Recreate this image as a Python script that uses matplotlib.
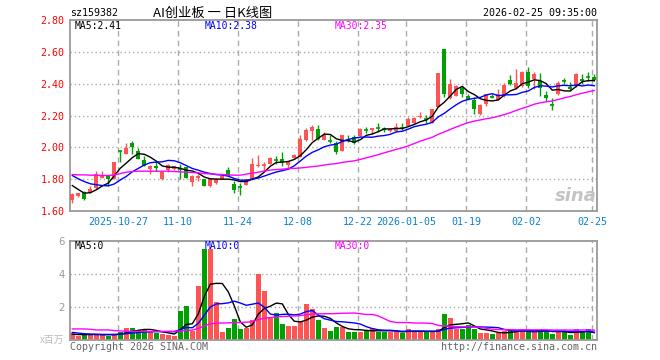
import matplotlib
matplotlib.use('Agg')
import matplotlib.pyplot as plt
import numpy as np
import pandas as pd

plt.rcParams['font.family'] = ['DejaVu Sans Mono', 'Noto Sans CJK SC', 'DejaVu Sans']

# ---------------- data ----------------
opens = [1.667, 1.694, 1.719, 1.715, 1.744, 1.810, 1.820, 1.802, 1.978, 1.958,
         2.025, 1.980, 1.920, 1.865, 1.885, 1.800, 1.855, 1.865, 1.868, 1.875,
         1.785, 1.810, 1.800, 1.756, 1.778, 1.800, 1.855, 1.770, 1.752, 1.765,
         1.800, 1.880, 1.883, 1.896, 1.921, 1.927, 1.890, 1.935, 1.940, 2.045,
         2.100, 2.115, 2.048, 2.041, 2.025, 1.977, 2.046, 2.067, 2.073, 2.112,
         2.110, 2.121, 2.116, 2.100, 2.100, 2.121, 2.135, 2.150, 2.190, 2.181,
         2.155, 2.254, 2.615, 2.310, 2.323, 2.375, 2.320, 2.300, 2.210, 2.270,
         2.321, 2.300, 2.320, 2.420, 2.370, 2.385, 2.473, 2.427, 2.417, 2.327,
         2.271, 2.333, 2.421, 2.380, 2.385, 2.430, 2.441, 2.440]
closes = [1.708, 1.712, 1.673, 1.740, 1.833, 1.829, 1.800, 1.906, 1.976, 1.994,
          2.000, 1.927, 1.885, 1.885, 1.870, 1.848, 1.890, 1.880, 1.855, 1.810,
          1.822, 1.820, 1.760, 1.800, 1.800, 1.820, 1.820, 1.735, 1.750, 1.800,
          1.895, 1.890, 1.887, 1.933, 1.919, 1.906, 1.912, 1.950, 2.050, 2.108,
          2.130, 2.050, 2.077, 2.039, 1.973, 2.077, 2.044, 2.030, 2.115, 2.110,
          2.120, 2.119, 2.114, 2.115, 2.125, 2.119, 2.177, 2.183, 2.200, 2.179,
          2.240, 2.465, 2.333, 2.396, 2.385, 2.337, 2.300, 2.240, 2.265, 2.333,
          2.319, 2.333, 2.390, 2.396, 2.406, 2.473, 2.385, 2.462, 2.370, 2.310,
          2.269, 2.406, 2.419, 2.365, 2.458, 2.415, 2.439, 2.420]
highs = [1.712, 1.716, 1.725, 1.760, 1.854, 1.854, 1.824, 1.910, 1.985, 2.030,
         2.040, 1.996, 1.945, 1.890, 1.917, 1.850, 1.893, 1.884, 1.896, 1.878,
         1.826, 1.835, 1.804, 1.805, 1.806, 1.835, 1.875, 1.790, 1.777, 1.804,
         1.933, 1.950, 1.906, 1.942, 1.948, 1.969, 1.914, 1.960, 2.075, 2.121,
         2.140, 2.140, 2.098, 2.077, 2.042, 2.080, 2.077, 2.077, 2.123, 2.125,
         2.123, 2.150, 2.129, 2.121, 2.150, 2.156, 2.188, 2.192, 2.220, 2.206,
         2.241, 2.467, 2.617, 2.427, 2.390, 2.385, 2.337, 2.315, 2.271, 2.337,
         2.333, 2.365, 2.406, 2.455, 2.490, 2.479, 2.506, 2.473, 2.465, 2.354,
         2.310, 2.417, 2.437, 2.410, 2.469, 2.462, 2.475, 2.458]
lows = [1.652, 1.690, 1.667, 1.712, 1.740, 1.806, 1.760, 1.798, 1.910, 1.955,
        1.960, 1.924, 1.880, 1.835, 1.854, 1.797, 1.845, 1.860, 1.800, 1.806,
        1.756, 1.790, 1.755, 1.750, 1.770, 1.798, 1.817, 1.715, 1.698, 1.762,
        1.797, 1.874, 1.854, 1.893, 1.894, 1.885, 1.866, 1.931, 1.937, 2.042,
        2.045, 2.047, 2.045, 2.030, 1.958, 1.974, 2.031, 2.021, 2.070, 2.088,
        2.085, 2.094, 2.094, 2.094, 2.098, 2.110, 2.132, 2.147, 2.182, 2.156,
        2.152, 2.251, 2.317, 2.306, 2.320, 2.316, 2.297, 2.208, 2.204, 2.260,
        2.312, 2.297, 2.317, 2.393, 2.366, 2.382, 2.375, 2.365, 2.320, 2.292,
        2.235, 2.330, 2.396, 2.360, 2.382, 2.400, 2.417, 2.417]
volumes = [0.40, 0.24, 0.34, 0.34, 0.34, 0.34, 0.24, 0.34, 0.50, 0.75,
           0.75, 0.60, 0.60, 0.50, 0.45, 0.34, 0.28, 0.24, 1.78, 2.06,
           0.55, 3.30, 5.50, 5.50, 2.32, 0.50, 0.75, 1.27, 0.65, 0.70,
           1.21, 4.00, 2.97, 1.37, 1.64, 0.97, 0.85, 0.85, 1.17, 2.18,
           1.88, 1.21, 0.75, 0.55, 0.79, 0.81, 0.50, 0.50, 0.50, 0.60,
           0.70, 0.50, 0.50, 0.50, 0.50, 0.45, 0.67, 0.50, 0.50, 0.50,
           0.50, 0.67, 1.58, 1.33, 0.67, 0.69, 0.91, 0.67, 0.40, 0.40,
           0.36, 0.45, 0.55, 0.55, 0.60, 0.67, 0.50, 0.50, 0.60, 0.60,
           0.36, 0.50, 0.50, 0.30, 0.67, 0.50, 0.67, 0.06]

# moving-average values at the left edge (history before the window)
price_ma5_head = [1.760, 1.735, 1.712, 1.715]
price_ma10_head = [1.823, 1.802, 1.785, 1.771, 1.765, 1.760, 1.758, 1.770, 1.795]
price_ma30_head = [1.829, 1.827, 1.827, 1.825, 1.825, 1.823, 1.823, 1.827, 1.835, 1.844,
                   1.848, 1.850, 1.850, 1.850, 1.850, 1.850, 1.850, 1.848, 1.846, 1.844,
                   1.842, 1.840, 1.835, 1.833, 1.831, 1.829, 1.827, 1.825, 1.825]
vol_ma5_head = [0.35, 0.33, 0.33, 0.33]
vol_ma10_head = [0.46, 0.42, 0.38, 0.36, 0.35, 0.34, 0.34, 0.34, 0.35]
vol_ma30_head = [0.67, 0.67, 0.67, 0.65, 0.61, 0.61, 0.61, 0.57, 0.55, 0.53,
                 0.52, 0.52, 0.52, 0.52, 0.52, 0.52, 0.52, 0.53, 0.55, 0.58,
                 0.60, 0.70, 0.86, 0.98, 1.02, 1.03, 1.04, 1.05, 1.06]

date_idx = [8, 18, 28, 38, 48, 56, 66, 76, 87]
date_labels = ['2025-10-27', '11-10', '11-24', '12-08', '12-22',
               '2026-01-05', '01-19', '02-02', '02-25']
price_ticks = [1.60, 1.80, 2.00, 2.20, 2.40, 2.60, 2.80]
vol_ticks = [2, 4, 6]
ma_windows = [5, 10, 30]
ma_colors = ['#000000', '#0000ff', '#ff00ff']
price_ma_text = ['MA5:2.41', 'MA10:2.38', 'MA30:2.35']
vol_ma_text = ['MA5:0', 'MA10:0', 'MA30:0']

code_text = 'sz159382'
title_text = 'AI创业板 一 日K线图'
time_text = '2026-02-25 09:35:00'

# ---------------- styling ----------------
RED = '#ff5454'
GREEN = '#00a000'
GRID = '#aaaaaa'
SPINE = '#999999'
W, H = 660, 360

o = np.array(opens); c = np.array(closes)
hi = np.array(highs); lo = np.array(lows)
v = np.array(volumes)
x = np.arange(len(o))
up = c >= o
cols = np.where(up, RED, GREEN)


def moving_avg(values, w, head):
    m = pd.Series(values).rolling(w).mean().to_numpy()
    m[:w - 1] = head
    return m


fig = plt.figure(figsize=(W / 100, H / 100), dpi=100)
fig.patch.set_facecolor('white')


def px(left, top, right, bottom):
    return [left / W, 1 - bottom / H, (right - left) / W, (bottom - top) / H]


ax = fig.add_axes(px(70, 20, 597, 211))
axv = fig.add_axes(px(70, 241, 597, 340))

xl = (-0.383, 87.45)
grid_x = [i - 0.38 for i in date_idx]

for a in (ax, axv):
    a.set_xlim(*xl)
    for s in a.spines.values():
        s.set_color(SPINE)
        s.set_linewidth(1.3)
    for gx in grid_x:
        a.axvline(gx, color=GRID, ls=(0, (4, 3)), lw=1, zorder=0)
    a.tick_params(length=0)

# price panel
ax.set_ylim(1.60, 2.80)
for t in price_ticks[1:-1]:
    ax.axhline(t, color=GRID, ls=(0, (1, 2)), lw=1, zorder=0)
ax.vlines(x, lo, hi, colors=cols, lw=1, zorder=2)
body = np.abs(c - o)
bot = np.minimum(o, c)
ax.bar(x, body, bottom=bot, width=0.68, color=cols, zorder=3, linewidth=0)
doji = body < 0.006
ax.hlines(c[doji], x[doji] - 0.34, x[doji] + 0.34, colors=cols[doji], lw=1.2, zorder=3)

price_heads = [price_ma5_head, price_ma10_head, price_ma30_head]
for w, col, head in zip(ma_windows, ma_colors, price_heads):
    ax.plot(x, moving_avg(c, w, head), color=col, lw=1, zorder=4)

ax.set_yticks(price_ticks)
ax.set_yticklabels([f'{t:.2f}' for t in price_ticks], color='#ff0000', fontsize=7.2)
ax.set_xticks(grid_x)
ax.set_xticklabels(date_labels, color='#0a80d0', fontsize=7.2)
ax.tick_params(axis='x', pad=4)
ax.tick_params(axis='y', pad=4)

for txt, col, fx in zip(price_ma_text, ma_colors, [75, 205, 335]):
    fig.text(fx / W, 1 - 26 / H, txt, color=col, fontsize=7, va='center', ha='left')

fig.text(597 / W, 1 - 196 / H, 'sina', color='#c4c4c4', fontsize=13,
         fontstyle='italic', fontweight='bold', ha='right', va='center',
         family='DejaVu Sans')

# volume panel
axv.set_ylim(0, 6)
for t in vol_ticks[:-1]:
    axv.axhline(t, color=GRID, ls=(0, (1, 2)), lw=1, zorder=0)
axv.bar(x, v, width=0.8, color=cols, zorder=2, linewidth=0)
vol_heads = [vol_ma5_head, vol_ma10_head, vol_ma30_head]
for w, col, head in zip(ma_windows, ma_colors, vol_heads):
    axv.plot(x, moving_avg(v, w, head), color=col, lw=1, zorder=4)
axv.set_yticks(vol_ticks)
axv.set_yticklabels([str(t) for t in vol_ticks], color='#999999', fontsize=7.2,
                    family='DejaVu Sans')
axv.set_xticks([])
axv.tick_params(axis='y', pad=4)

for txt, col, fx in zip(vol_ma_text, ma_colors, [75, 205, 335]):
    fig.text(fx / W, 1 - 246 / H, txt, color=col, fontsize=7, va='center', ha='left')

# header / footer texts
fig.text(70 / W, 1 - 13 / H, code_text, fontsize=7.2, va='center', ha='left', color='#000000')
fig.text(213 / W, 1 - 13 / H, title_text, fontsize=9.5, va='center', ha='center',
         color='#000000', family=['Noto Sans CJK SC', 'DejaVu Sans'])
fig.text(597 / W, 1 - 13 / H, time_text, fontsize=7.2, va='center', ha='right', color='#000000')
fig.text(70 / W, 1 - 347 / H, 'Copyright 2026 SINA.COM', fontsize=7.2, va='center',
         ha='left', color='#666666')
fig.text(597 / W, 1 - 347 / H, 'http://finance.sina.com.cn', fontsize=7.2, va='center',
         ha='right', color='#666666')
fig.text(64 / W, 1 - 340 / H, 'x百万', fontsize=7, va='center', ha='right',
         color='#bbbbbb', family=['Noto Sans CJK SC', 'DejaVu Sans'])

fig.savefig('out.png', dpi=100)
